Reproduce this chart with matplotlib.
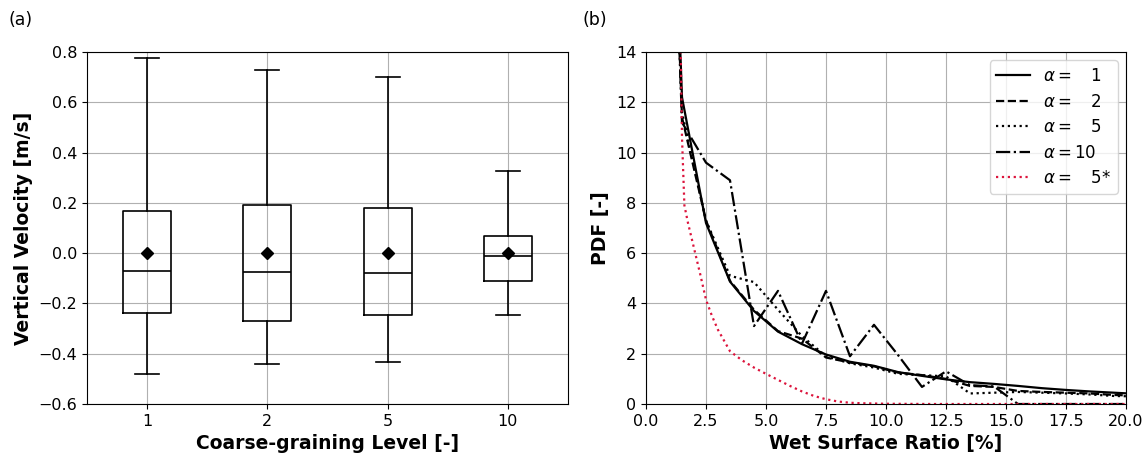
import matplotlib
matplotlib.use("Agg")
import matplotlib.pyplot as plt

# (a) vertical velocity statistics per coarse-graining level
levels = ["1", "2", "5", "10"]
whisker_hi = [0.775, 0.727, 0.700, 0.327]
q3 = [0.168, 0.190, 0.178, 0.070]
median = [-0.072, -0.075, -0.080, -0.010]
q1 = [-0.237, -0.268, -0.245, -0.110]
whisker_lo = [-0.480, -0.440, -0.433, -0.245]
mean = [0.0, 0.0, 0.0, 0.0]

# (b) PDF of wet surface ratio
wsr = [0.5, 1.5, 2.5, 3.5, 4.5, 5.5, 6.5, 7.5, 8.5, 9.5, 10.5,
       11.5, 12.5, 13.5, 14.5, 15.5, 16.5, 17.5, 18.5, 19.5, 20.5]
pdf_a1 = [38, 12.2, 7.2, 4.87, 3.7, 2.88, 2.38, 1.97, 1.68, 1.52, 1.27,
          1.12, 0.98, 0.87, 0.8, 0.72, 0.63, 0.56, 0.5, 0.45, 0.4]
pdf_a2 = [38, 11.4, 7.3, 4.9, 3.75, 2.9, 2.6, 1.85, 1.65, 1.5, 1.25,
          1.15, 1.0, 0.72, 0.68, 0.52, 0.48, 0.45, 0.42, 0.36, 0.33]
pdf_a5 = [38, 11.6, 7.3, 5.1, 4.85, 3.75, 2.7, 1.9, 1.62, 1.45, 1.2,
          1.15, 1.1, 0.42, 0.45, 0.48, 0.45, 0.42, 0.38, 0.32, 0.3]
pdf_a10 = [38, 11.2, 9.6, 8.9, 3.1, 4.5, 2.4, 4.5, 1.9, 3.15, 1.95,
           0.68, 1.3, 0.75, 0.7, 0.0, 0.0, 0.0, 0.0, 0.0, 0.0]
wsr_a5s = [1.44, 1.5, 1.6, 1.75, 2.0, 2.25, 2.5, 2.75, 3.0, 3.5, 4.0, 4.5,
           5.0, 5.5, 6.0, 6.5, 7.0, 7.5, 8.0, 8.5, 9.0, 10.0, 12.0, 15.0, 20.0]
pdf_a5s = [14.5, 10.6, 7.9, 7.2, 6.2, 5.2, 4.15, 3.5, 2.95, 2.1, 1.74, 1.45,
           1.2, 0.96, 0.72, 0.5, 0.32, 0.19, 0.1, 0.05, 0.03, 0.01, 0.0, 0.0, 0.0]

fig = plt.figure(figsize=(11.46, 4.54), dpi=100)
ax1 = fig.add_axes([0.0759, 0.1101, 0.4197, 0.7753])
ax2 = fig.add_axes([0.5637, 0.1101, 0.4188, 0.7753])

stats = []
for i in range(len(levels)):
    stats.append(dict(whishi=whisker_hi[i], q3=q3[i], med=median[i],
                      q1=q1[i], whislo=whisker_lo[i], mean=mean[i],
                      fliers=[], label=levels[i]))
ax1.bxp(stats, positions=[1, 2, 3, 4], widths=0.4, showmeans=True,
        boxprops=dict(color="black", linewidth=1.2),
        whiskerprops=dict(color="black", linewidth=1.2),
        capprops=dict(color="black", linewidth=1.2),
        medianprops=dict(color="black", linewidth=1.2),
        meanprops=dict(marker="D", markerfacecolor="black",
                       markeredgecolor="black", markersize=6.5))
ax1.set_xlim(0.5, 4.5)
ax1.set_ylim(-0.6, 0.8)
ax1.set_yticks([-0.6, -0.4, -0.2, 0.0, 0.2, 0.4, 0.6, 0.8])
ax1.grid(True, color="#b0b0b0")
ax1.set_axisbelow(True)
ax1.set_xlabel("Coarse-graining Level [-]", fontsize=13.5, fontweight="bold")
ax1.set_ylabel("Vertical Velocity [m/s]", fontsize=13.5, fontweight="bold")
ax1.tick_params(labelsize=11.5)

ax2.plot(wsr, pdf_a1, color="black", linestyle="-", lw=1.6, label=r"$\alpha =\ \ \ 1$")
ax2.plot(wsr, pdf_a2, color="black", linestyle="--", lw=1.6, label=r"$\alpha =\ \ \ 2$")
ax2.plot(wsr, pdf_a5, color="black", linestyle=":", lw=1.6, label=r"$\alpha =\ \ \ 5$")
ax2.plot(wsr, pdf_a10, color="black", linestyle="-.", lw=1.6, label=r"$\alpha = 10$")
ax2.plot(wsr_a5s, pdf_a5s, color="crimson", linestyle=":", lw=1.6, label=r"$\alpha =\ \ \ 5$*")
ax2.set_xlim(0, 20)
ax2.set_ylim(0, 14)
ax2.set_xticks([0, 2.5, 5, 7.5, 10, 12.5, 15, 17.5, 20])
ax2.set_yticks([0, 2, 4, 6, 8, 10, 12, 14])
ax2.grid(True, color="#b0b0b0")
ax2.set_xlabel("Wet Surface Ratio [%]", fontsize=13.5, fontweight="bold")
ax2.set_ylabel("PDF [-]", fontsize=13.5, fontweight="bold")
ax2.tick_params(labelsize=11.5)
ax2.legend(loc="upper right", fontsize=12, labelspacing=0.45)

fig.text(0.007, 0.955, "(a)", fontsize=12.5, va="center")
fig.text(0.508, 0.955, "(b)", fontsize=12.5, va="center")

fig.savefig("out.png", dpi=100)
